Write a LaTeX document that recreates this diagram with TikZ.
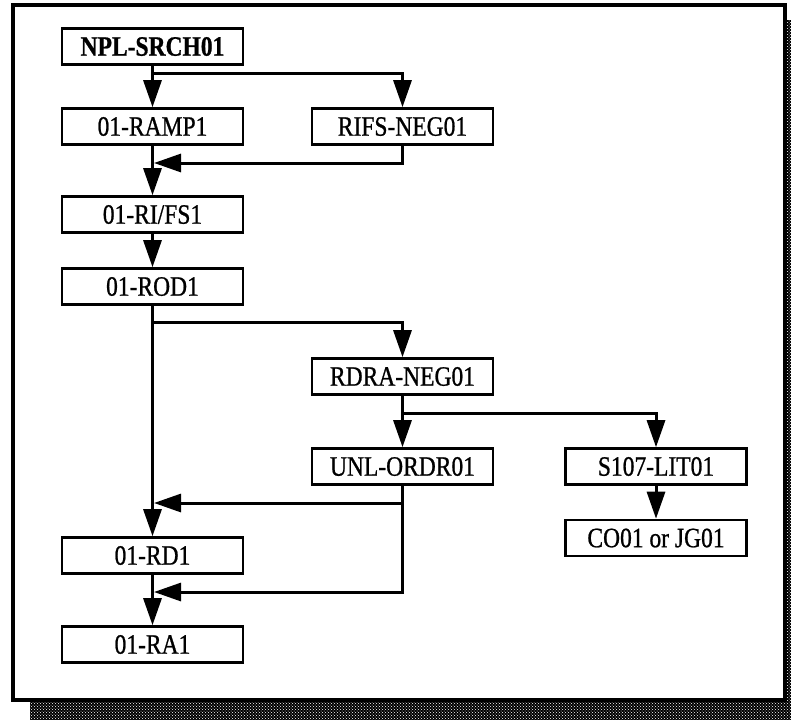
\documentclass[tikz,border=0pt]{standalone}
\usepackage{fontspec}
\setmainfont[FakeStretch=0.84,FakeBold=0.8]{Liberation Serif}
\usetikzlibrary{arrows.meta,patterns}

\begin{document}
\begin{tikzpicture}[x=1pt,y=-1pt,
  blk/.style={draw, line width=2.6pt, minimum width=181pt, minimum height=36pt,
              inner sep=0pt, fill=white, font=\fontsize{28}{28}\selectfont},
  link/.style={line width=3pt},
  arr/.style={link, -{Triangle[length=27pt,width=18pt]}},
]
\useasboundingbox (0,0) rectangle (791,720);

% drop shadow behind the frame
\fill[black] (30,20) rectangle (791,720);
\fill[pattern=crosshatch dots, pattern color=white] (30,20) rectangle (791,720);

% frame
\draw[line width=3.8pt, fill=white] (13,5) rectangle (785,700);

% left column
\node[blk] (npl)  at (152.5,46.5)  {\bfseries NPL-SRCH01};
\node[blk] (ramp) at (152.5,126.5) {01-RAMP1};
\node[blk] (rifs1) at (152.5,214.5) {01-RI/FS1};
\node[blk] (rod)  at (152.5,286.5) {01-ROD1};
\node[blk] (rd)   at (152.5,555.5) {01-RD1};
\node[blk] (ra)   at (152.5,644.5) {01-RA1};

% middle column
\node[blk] (rifs) at (402.5,126.5) {RIFS-NEG01};
\node[blk] (rdra) at (402.5,376.5) {RDRA-NEG01};
\node[blk] (unl)  at (402.5,466.5) {UNL-ORDR01};

% right column
\node[blk] (lit) at (656,466.5) {S107-LIT01};
\node[blk] (co)  at (656,538)   {CO01 or JG01};

% junction points
\coordinate (j1) at (152.5,73);
\coordinate (m1) at (154,163);
\coordinate (j2) at (152.5,322);
\coordinate (j3) at (402.5,413);
\coordinate (j4) at (402.5,503);
\coordinate (m2) at (154,503);
\coordinate (m3) at (154,592);

% connectors
\draw[arr] (npl.south) -- (ramp.north);
\draw[arr] (j1) -| (rifs.north);
\draw[arr] (rifs.south) |- (m1);
\draw[arr] (ramp.south) -- (rifs1.north);
\draw[arr] (rifs1.south) -- (rod.north);
\draw[arr] (rod.south) -- (rd.north);
\draw[arr] (j2) -| (rdra.north);
\draw[arr] (rdra.south) -- (unl.north);
\draw[arr] (j3) -| (lit.north);
\draw[arr] (lit.south) -- (co.north);
\draw[arr] (j4) -- (m2);
\draw[arr] (unl.south) |- (m3);
\draw[arr] (rd.south) -- (ra.north);
\end{tikzpicture}
\end{document}
